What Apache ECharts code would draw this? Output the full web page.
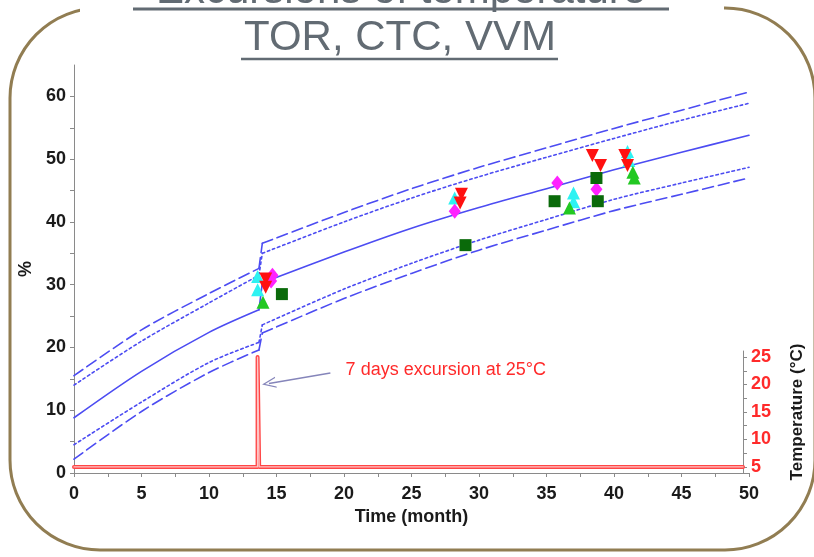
<!DOCTYPE html>
<html>
<head>
<meta charset="utf-8">
<script src="https://cdn.jsdelivr.net/npm/echarts@6/dist/echarts.min.js"></script>
<style>
  html, body { margin: 0; padding: 0; background: #ffffff; }
  #chart { width: 814px; height: 557px; }
</style>
</head>
<body>
<div id="chart"></div>
<script>
// ---- Model curves: prediction (solid) with two pairs of bounds ----
// Index JUMP marks the step caused by the temperature excursion.
const curveT       = [0, 5, 10, 13.7, 13.95, 20, 25, 30, 35, 40, 45, 50];
const fitMean      = [8.8, 16.2, 22.4, 26.0, 30.3, 35.2, 39.0, 42.3, 45.3, 48.3, 51.1, 53.8];
const upperOuter   = [15.5, 22.8, 28.6, 32.6, 36.6, 41.5, 45.3, 48.7, 51.8, 54.9, 57.8, 60.7];
const upperInner   = [14.0, 21.0, 27.1, 31.5, 35.0, 40.0, 43.8, 47.2, 50.3, 53.3, 56.2, 58.9];
const lowerInner   = [4.5, 11.3, 17.6, 20.8, 23.6, 29.3, 33.4, 37.1, 40.4, 43.6, 46.2, 48.7];
const lowerOuter   = [2.2, 9.8, 16.0, 19.6, 22.3, 27.8, 31.8, 35.5, 38.7, 41.8, 44.4, 47.0];
const JUMP = 3;

// ---- Measured results (time in months, value in %) ----
const redT     = [14.2, 14.2, 28.7, 28.6, 38.4, 39.0, 40.8, 41.0];
const redV     = [30.9, 29.6, 44.4, 43.0, 50.6, 49.0, 50.6, 49.0];
const cyanT    = [13.6, 13.6, 28.2, 37.0, 37.0, 41.0, 41.1];
const cyanV    = [31.3, 29.2, 43.8, 44.6, 43.2, 51.2, 49.8];
const magentaT = [14.7, 14.6, 28.2, 35.8, 38.7];
const magentaV = [31.5, 30.6, 41.7, 46.2, 45.2];
const greenT   = [14.0, 36.7, 41.4, 41.5];
const greenV   = [27.2, 42.2, 47.9, 47.0];
const squareT  = [15.4, 29.0, 35.6, 38.7, 38.8];
const squareV  = [28.5, 36.3, 43.3, 47.0, 43.3];

// ---- Storage temperature profile (°C) ----
const tempT = [0, 13.72, 13.72, 13.84, 13.84, 50];
const tempV = [5, 5, 25, 25, 5, 5];

// ---- Axis ticks ----
const xLabels     = [0, 5, 10, 15, 20, 25, 30, 35, 40, 45, 50];
const xTicks      = [0, 2.5, 5, 7.5, 10, 12.5, 15, 17.5, 20, 22.5, 25, 27.5, 30, 32.5, 35, 37.5, 40, 42.5, 45, 47.5, 50];
const yLabels     = [0, 10, 20, 30, 40, 50, 60];
const yTicks      = [0, 5, 10, 15, 20, 25, 30, 35, 40, 45, 50, 55, 60];
const tempLabels  = [5, 10, 15, 20, 25];
const tempTicks   = [5, 7.5, 10, 12.5, 15, 17.5, 20, 22.5, 25];

const zip = (a, b) => a.map((v, i) => [v, b[i]]);

const FONT = '"Liberation Sans", Arial, sans-serif';
const CURVE = '#4c4cf2';
const AXIS_GRAY = '#8a8a8a';
const TEXT = '#1a1a1a';

// One model curve = smooth part before the step, the step itself, smooth part after.
function curve(name, values, type) {
  const pts = zip(curveT, values);
  const base = {
    type: 'line', xAxisIndex: 0, yAxisIndex: 0,
    showSymbol: false, z: 2, silent: true,
    lineStyle: { color: CURVE, width: 1.6, type: type, cap: 'round', join: 'round' }
  };
  return [
    Object.assign({}, base, { name: name + ' (before)', data: pts.slice(0, JUMP + 1), smooth: 0.3 }),
    Object.assign({}, base, { name: name + ' (step)', data: pts.slice(JUMP, JUMP + 2), smooth: false }),
    Object.assign({}, base, { name: name + ' (after)', data: pts.slice(JUMP + 1), smooth: 0.3 })
  ];
}

function markers(name, xs, ys, symbol, color, size, rotate, z) {
  return {
    name: name,
    type: 'scatter',
    xAxisIndex: 0, yAxisIndex: 0,
    data: zip(xs, ys),
    symbol: symbol,
    symbolSize: size,
    symbolRotate: rotate || 0,
    itemStyle: { color: color, opacity: 1 },
    z: z,
    silent: true
  };
}

const chart = echarts.init(document.getElementById('chart'), null, { renderer: 'canvas' });

chart.setOption({
  animation: false,
  backgroundColor: '#ffffff',
  graphic: [
    { type: 'rect', z: 0, silent: true,
      shape: { x: 10, y: 8, width: 805, height: 542, r: 90 },
      style: { fill: 'none', stroke: '#917d52', lineWidth: 3 } },
    { type: 'rect', z: 1, silent: true,
      shape: { x: 80, y: 0, width: 644, height: 20 },
      style: { fill: '#ffffff' } },
    { type: 'text', z: 2, silent: true,
      style: { text: 'Excursions of temperature', x: 401, y: 12, textAlign: 'center', textVerticalAlign: 'bottom',
               font: '42px ' + FONT, fill: '#626b73' } },
    { type: 'line', z: 2, silent: true,
      shape: { x1: 133, y1: 9, x2: 669, y2: 9 },
      style: { stroke: '#626b73', lineWidth: 3 } },
    { type: 'text', z: 2, silent: true,
      style: { text: 'TOR, CTC, VVM', x: 400, y: 38, textAlign: 'center', textVerticalAlign: 'middle',
               font: '42px ' + FONT, fill: '#626b73' } },
    { type: 'line', z: 2, silent: true,
      shape: { x1: 241, y1: 59, x2: 558, y2: 59 },
      style: { stroke: '#626b73', lineWidth: 2.5 } }
  ],
  grid: [
    { left: 74, right: 65, top: 65, bottom: 84, containLabel: false },
    { left: 74, right: 65, top: 351, bottom: 84, containLabel: false }
  ],
  xAxis: [
    {
      type: 'value', gridIndex: 0, min: 0, max: 50,
      name: 'Time (month)', nameLocation: 'middle', nameGap: 35,
      nameTextStyle: { fontFamily: FONT, fontSize: 18, fontWeight: 'bold', color: TEXT },
      axisLine: { show: true, onZero: false, lineStyle: { color: AXIS_GRAY, width: 1 } },
      axisTick: { show: true, length: 4, customValues: xTicks, lineStyle: { color: AXIS_GRAY } },
      axisLabel: { customValues: xLabels, margin: 12, fontFamily: FONT, fontSize: 18, fontWeight: 'bold', color: TEXT },
      splitLine: { show: false }
    },
    {
      type: 'value', gridIndex: 1, min: 0, max: 50, show: false
    }
  ],
  yAxis: [
    {
      type: 'value', gridIndex: 0, min: 0, max: 65,
      name: '%', nameLocation: 'middle', nameGap: 36, nameRotate: 90,
      nameTextStyle: { fontFamily: FONT, fontSize: 18, fontWeight: 'bold', color: TEXT },
      axisLine: { show: true, onZero: false, lineStyle: { color: AXIS_GRAY, width: 1 } },
      axisTick: { show: true, length: 4, customValues: yTicks, lineStyle: { color: AXIS_GRAY } },
      axisLabel: { customValues: yLabels, margin: 8, fontFamily: FONT, fontSize: 18, fontWeight: 'bold', color: TEXT },
      splitLine: { show: false }
    },
    {
      type: 'value', gridIndex: 1, position: 'right', min: 3.9, max: 26.1,
      name: 'Temperature (°C)', nameLocation: 'middle', nameGap: 46, nameRotate: 90,
      nameTextStyle: { fontFamily: FONT, fontSize: 17, fontWeight: 'bold', color: TEXT },
      axisLine: { show: true, onZero: false, lineStyle: { color: AXIS_GRAY, width: 1 } },
      axisTick: { show: true, length: 4, customValues: tempTicks, lineStyle: { color: AXIS_GRAY } },
      axisLabel: { customValues: tempLabels, margin: 8, fontFamily: FONT, fontSize: 18, fontWeight: 'bold', color: '#ff2a2a' },
      splitLine: { show: false }
    }
  ],
  series: [
    ...curve('Upper bound (outer)', upperOuter, [11, 5]),
    ...curve('Upper bound (inner)', upperInner, [2.5, 3]),
    ...curve('Prediction', fitMean, 'solid'),
    ...curve('Lower bound (inner)', lowerInner, [2.5, 3]),
    ...curve('Lower bound (outer)', lowerOuter, [11, 5]),

    // storage temperature, drawn as a red tube
    {
      name: 'Temperature', type: 'line', xAxisIndex: 1, yAxisIndex: 1,
      data: zip(tempT, tempV), showSymbol: false, z: 3, silent: true,
      lineStyle: { color: '#ff4646', width: 4, cap: 'round', join: 'round' },
      markLine: {
        silent: true, animation: false,
        lineStyle: { color: '#8585ba', width: 1.5, type: 'solid' },
        label: { show: false },
        data: [[
          { coord: [19.16, 22.1], symbol: 'none' },
          { coord: [14.57, 20.2], symbol: 'path://M7,0 L14,14 L12.4,14 L7,3.2 L1.6,14 L0,14 Z', symbolSize: [11, 14] }
        ]]
      },
      markPoint: {
        silent: true, animation: false,
        symbol: 'circle', symbolSize: 0,
        label: {
          show: true, position: 'right', distance: 0,
          formatter: '7 days excursion at 25°C',
          fontFamily: FONT, fontSize: 18, color: '#ff2a2a'
        },
        data: [{ coord: [20.3, 22.6] }]
      }
    },
    {
      name: 'Temperature core', type: 'line', xAxisIndex: 1, yAxisIndex: 1,
      data: zip(tempT, tempV), showSymbol: false, z: 4, silent: true,
      lineStyle: { color: '#ffc4c4', width: 1.3, cap: 'round', join: 'round' }
    },

    markers('Lot A', cyanT, cyanV, 'triangle', '#2ef2f2', 13, 0, 5),
    markers('Lot B', magentaT, magentaV, 'diamond', '#ff22ff', [12, 15], 0, 6),
    markers('Lot C', redT, redV, 'triangle', '#ff1010', 13, 180, 7),
    markers('Lot D', greenT, greenV, 'triangle', '#22c822', 13, 0, 8),
    markers('Lot E', squareT, squareV, 'rect', '#0a6a0a', 12, 0, 9)
  ]
});
</script>
</body>
</html>
